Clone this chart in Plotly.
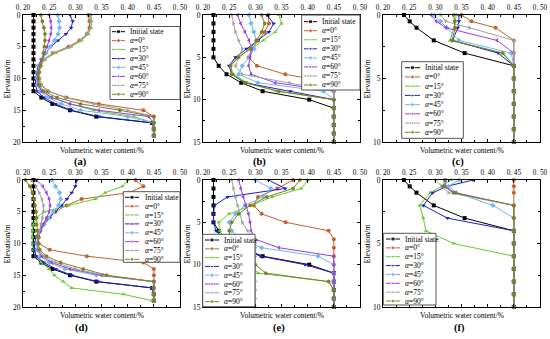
import plotly.graph_objects as go

W, H = 550, 339

# ---------------- data ----------------
depth_ad = list(range(20))
depth_be = list(range(16))
depth_cf = [0, 0.5, 1, 2, 3, 4, 5, 6, 7, 8, 9, 10]

x_ticks = [0.20, 0.25, 0.30, 0.35, 0.40, 0.45, 0.50]
x_ticktext = ["0. 20", "0. 25", "0. 30", "0. 35", "0. 40", "0. 45", "0. 50"]

series_names = ["Initial state", "<i>α</i>=0°", "<i>α</i>=15°", "<i>α</i>=30°",
                "<i>α</i>=45°", "<i>α</i>=60°", "<i>α</i>=75°", "<i>α</i>=90°"]

# panel (a)
a_init = [0.220, 0.220, 0.220, 0.220, 0.220, 0.220, 0.220, 0.220, 0.220, 0.220, 0.220, 0.220, 0.220, 0.235, 0.256, 0.290, 0.340, 0.447, 0.450, 0.450]
a_a0 = [0.325, 0.327, 0.327, 0.322, 0.308, 0.287, 0.257, 0.240, 0.234, 0.231, 0.231, 0.234, 0.248, 0.283, 0.345, 0.430, 0.450, 0.450, 0.450, 0.450]
a_a15 = [0.328, 0.330, 0.330, 0.325, 0.312, 0.292, 0.262, 0.242, 0.233, 0.229, 0.228, 0.229, 0.236, 0.255, 0.290, 0.335, 0.412, 0.450, 0.450, 0.450]
a_a30 = [0.290, 0.295, 0.292, 0.282, 0.267, 0.253, 0.243, 0.235, 0.229, 0.226, 0.224, 0.224, 0.227, 0.240, 0.262, 0.292, 0.345, 0.450, 0.450, 0.450]
a_a45 = [0.266, 0.269, 0.270, 0.267, 0.260, 0.252, 0.244, 0.237, 0.231, 0.228, 0.226, 0.227, 0.233, 0.248, 0.273, 0.310, 0.400, 0.450, 0.450, 0.450]
a_a60 = [0.250, 0.253, 0.254, 0.253, 0.250, 0.246, 0.241, 0.236, 0.232, 0.229, 0.228, 0.229, 0.236, 0.255, 0.290, 0.345, 0.440, 0.450, 0.450, 0.450]
a_a75 = [0.330, 0.331, 0.330, 0.323, 0.310, 0.290, 0.258, 0.240, 0.234, 0.231, 0.231, 0.235, 0.250, 0.280, 0.335, 0.400, 0.450, 0.450, 0.450, 0.450]
a_a90 = [0.234, 0.237, 0.240, 0.242, 0.242, 0.241, 0.239, 0.236, 0.233, 0.230, 0.229, 0.231, 0.240, 0.265, 0.310, 0.385, 0.450, 0.450, 0.450, 0.450]

# panel (b)
b_init = [0.220, 0.220, 0.220, 0.220, 0.220, 0.220, 0.230, 0.245, 0.273, 0.314, 0.403, 0.450, 0.450, 0.450, 0.450, 0.450]
b_a0 = [0.325, 0.326, 0.318, 0.305, 0.293, 0.287, 0.303, 0.357, 0.447, 0.450, 0.450, 0.450, 0.450, 0.450, 0.450, 0.450]
b_a15 = [0.345, 0.350, 0.338, 0.315, 0.292, 0.265, 0.252, 0.258, 0.285, 0.340, 0.450, 0.450, 0.450, 0.450, 0.450, 0.450]
b_a30 = [0.322, 0.335, 0.326, 0.305, 0.283, 0.262, 0.250, 0.255, 0.280, 0.367, 0.450, 0.450, 0.450, 0.450, 0.450, 0.450]
b_a45 = [0.288, 0.292, 0.297, 0.302, 0.298, 0.288, 0.275, 0.268, 0.305, 0.430, 0.450, 0.450, 0.450, 0.450, 0.450, 0.450]
b_a60 = [0.266, 0.272, 0.280, 0.288, 0.293, 0.290, 0.287, 0.292, 0.338, 0.450, 0.450, 0.450, 0.450, 0.450, 0.450, 0.450]
b_a75 = [0.255, 0.258, 0.262, 0.268, 0.275, 0.268, 0.262, 0.275, 0.365, 0.450, 0.450, 0.450, 0.450, 0.450, 0.450, 0.450]
b_a90 = [0.312, 0.318, 0.312, 0.302, 0.290, 0.268, 0.253, 0.255, 0.280, 0.345, 0.450, 0.450, 0.450, 0.450, 0.450, 0.450]

# panel (c)
c_init = [0.240, 0.251, 0.264, 0.297, 0.356, 0.450, 0.450, 0.450, 0.450, 0.450, 0.450, 0.450]
c_a0 = [0.350, 0.369, 0.415, 0.450, 0.450, 0.450, 0.450, 0.450, 0.450, 0.450, 0.450, 0.450]
c_a15 = [0.340, 0.338, 0.336, 0.328, 0.430, 0.450, 0.450, 0.450, 0.450, 0.450, 0.450, 0.450]
c_a30 = [0.345, 0.345, 0.343, 0.333, 0.420, 0.450, 0.450, 0.450, 0.450, 0.450, 0.450, 0.450]
c_a45 = [0.298, 0.310, 0.322, 0.345, 0.445, 0.450, 0.450, 0.450, 0.450, 0.450, 0.450, 0.450]
c_a60 = [0.292, 0.302, 0.320, 0.418, 0.450, 0.450, 0.450, 0.450, 0.450, 0.450, 0.450, 0.450]
c_a75 = [0.310, 0.320, 0.365, 0.450, 0.450, 0.450, 0.450, 0.450, 0.450, 0.450, 0.450, 0.450]
c_a90 = [0.335, 0.337, 0.338, 0.332, 0.428, 0.450, 0.450, 0.450, 0.450, 0.450, 0.450, 0.450]

# panel (d)
d_init = [0.220, 0.220, 0.220, 0.220, 0.220, 0.220, 0.220, 0.220, 0.220, 0.220, 0.220, 0.220, 0.220, 0.235, 0.256, 0.290, 0.340, 0.447, 0.450, 0.450]
d_a0 = [0.415, 0.430, 0.402, 0.312, 0.283, 0.262, 0.246, 0.237, 0.232, 0.230, 0.230, 0.251, 0.322, 0.430, 0.450, 0.450, 0.450, 0.450, 0.450, 0.450]
d_a15 = [0.400, 0.390, 0.357, 0.338, 0.287, 0.240, 0.225, 0.220, 0.218, 0.218, 0.218, 0.220, 0.225, 0.235, 0.250, 0.260, 0.277, 0.293, 0.392, 0.447]
d_a30 = [0.303, 0.300, 0.293, 0.284, 0.274, 0.261, 0.251, 0.240, 0.230, 0.225, 0.222, 0.222, 0.225, 0.240, 0.262, 0.293, 0.343, 0.447, 0.450, 0.450]
d_a45 = [0.255, 0.262, 0.270, 0.272, 0.268, 0.258, 0.248, 0.240, 0.233, 0.228, 0.226, 0.227, 0.233, 0.250, 0.280, 0.340, 0.450, 0.450, 0.450, 0.450]
d_a60 = [0.226, 0.238, 0.245, 0.250, 0.252, 0.250, 0.245, 0.239, 0.234, 0.230, 0.228, 0.229, 0.236, 0.255, 0.290, 0.350, 0.450, 0.450, 0.450, 0.450]
d_a75 = [0.216, 0.225, 0.231, 0.236, 0.239, 0.239, 0.237, 0.234, 0.231, 0.229, 0.228, 0.230, 0.240, 0.262, 0.300, 0.355, 0.450, 0.450, 0.450, 0.450]
d_a90 = [0.205, 0.213, 0.218, 0.221, 0.223, 0.225, 0.226, 0.226, 0.227, 0.228, 0.229, 0.232, 0.245, 0.272, 0.315, 0.360, 0.450, 0.450, 0.450, 0.450]

# panel (e)
e_init = [0.220, 0.220, 0.220, 0.220, 0.220, 0.220, 0.230, 0.245, 0.273, 0.314, 0.403, 0.450, 0.450, 0.450, 0.450, 0.450]
e_a0 = [0.372, 0.342, 0.305, 0.297, 0.312, 0.358, 0.440, 0.450, 0.450, 0.450, 0.450, 0.450, 0.450, 0.450, 0.450, 0.450]
e_a15 = [0.400, 0.388, 0.332, 0.293, 0.250, 0.230, 0.232, 0.240, 0.255, 0.275, 0.290, 0.306, 0.440, 0.450, 0.450, 0.450]
e_a30 = [0.325, 0.357, 0.247, 0.222, 0.220, 0.220, 0.225, 0.240, 0.270, 0.310, 0.395, 0.450, 0.450, 0.450, 0.450, 0.450]
e_a45 = [0.300, 0.330, 0.315, 0.280, 0.262, 0.250, 0.255, 0.272, 0.312, 0.420, 0.450, 0.450, 0.450, 0.450, 0.450, 0.450]
e_a60 = [0.268, 0.272, 0.277, 0.282, 0.287, 0.290, 0.292, 0.300, 0.345, 0.450, 0.450, 0.450, 0.450, 0.450, 0.450, 0.450]
e_a75 = [0.255, 0.258, 0.262, 0.266, 0.270, 0.275, 0.285, 0.300, 0.300, 0.300, 0.300, 0.300, 0.300, 0.300, 0.300, 0.300]
e_a90 = [0.385, 0.372, 0.322, 0.290, 0.268, 0.255, 0.250, 0.252, 0.262, 0.280, 0.300, 0.320, 0.440, 0.450, 0.450, 0.450]

# panel (f)
f_init = [0.240, 0.251, 0.264, 0.297, 0.356, 0.450, 0.450, 0.450, 0.450, 0.450, 0.450, 0.450]
f_a0 = [0.450, 0.450, 0.450, 0.450, 0.450, 0.450, 0.450, 0.450, 0.450, 0.450, 0.450, 0.450]
f_a15 = [0.330, 0.312, 0.290, 0.270, 0.277, 0.282, 0.335, 0.450, 0.450, 0.450, 0.450, 0.450]
f_a30 = [0.372, 0.322, 0.295, 0.277, 0.323, 0.450, 0.450, 0.450, 0.450, 0.450, 0.450, 0.450]
f_a45 = [0.345, 0.325, 0.340, 0.410, 0.450, 0.450, 0.450, 0.450, 0.450, 0.450, 0.450, 0.450]
f_a60 = [0.320, 0.318, 0.338, 0.450, 0.450, 0.450, 0.450, 0.450, 0.450, 0.450, 0.450, 0.450]
f_a75 = [0.300, 0.312, 0.325, 0.450, 0.450, 0.450, 0.450, 0.450, 0.450, 0.450, 0.450, 0.450]
f_a90 = [0.318, 0.315, 0.335, 0.450, 0.450, 0.450, 0.450, 0.450, 0.450, 0.450, 0.450, 0.450]

panels = [
    ("(a)", depth_ad, 20, [a_init, a_a0, a_a15, a_a30, a_a45, a_a60, a_a75, a_a90]),
    ("(b)", depth_be, 15, [b_init, b_a0, b_a15, b_a30, b_a45, b_a60, b_a75, b_a90]),
    ("(c)", depth_cf, 10, [c_init, c_a0, c_a15, c_a30, c_a45, c_a60, c_a75, c_a90]),
    ("(d)", depth_ad, 20, [d_init, d_a0, d_a15, d_a30, d_a45, d_a60, d_a75, d_a90]),
    ("(e)", depth_be, 15, [e_init, e_a0, e_a15, e_a30, e_a45, e_a60, e_a75, e_a90]),
    ("(f)", depth_cf, 10, [f_init, f_a0, f_a15, f_a30, f_a45, f_a60, f_a75, f_a90]),
]

# ---------------- style ----------------
colors = ["#000000", "#C0622F", "#66CC33", "#1E1EC8", "#72B8F2", "#9B3FE0", "#A0A0A0", "#7F7F1F"]
symbols = ["square", "circle", "triangle-up", "triangle-down", "diamond",
           "triangle-left", "triangle-right", "hexagon"]
FONT = "Liberation Serif, Times New Roman, serif"
BLACK = "#000000"

col_px = [(23, 180), (203, 360), (383, 540)]
row_px = [(15, 142), (180, 307)]
label_px = [(80, 162), (259, 162), (458, 162), (81, 327.5), (279, 327.5), (459, 327.5)]

# legend geometry: box x0,x1,y0,y1 ; first row y ; row step ; line x0,x1 ; text x
legend_px = [
    (110, 180, 26.5, 99.5, 31.7, 8.94, 112, 125, 127.5),
    (301.7, 360, 15, 90, 21.7, 9.04, 304, 317, 320),
    (401.7, 463.3, 61.7, 138.3, 67.7, 9.23, 405, 420, 422.7),
    (123.3, 180, 191.7, 262.3, 197.3, 8.86, 125, 139, 142.5),
    (202.7, 255, 234.3, 306.7, 240, 8.8, 205, 219, 221.7),
    (383.3, 436, 233.3, 305, 239, 8.86, 386, 400, 402.7),
]

fig = go.Figure()
layout = dict(
    template="none",
    width=W, height=H, margin=dict(l=0, r=0, t=0, b=0, pad=0),
    paper_bgcolor="white", plot_bgcolor="rgba(0,0,0,0)",
    font=dict(family=FONT, color=BLACK, size=8),
    showlegend=False,
)
annotations = []
shapes = []

for i, (lab, depth, ymax, vals) in enumerate(panels):
    r, c = divmod(i, 3)
    x0, x1 = col_px[c]
    y0, y1 = row_px[r]
    k = "" if i == 0 else str(i + 1)
    xa, ya = "x" + k, "y" + k
    layout["xaxis" + k] = dict(
        domain=[x0 / W, x1 / W], anchor=ya, range=[0.2, 0.5], side="top",
        tickvals=x_ticks, ticktext=x_ticktext, ticks="inside", ticklen=3,
        tickwidth=1, tickcolor=BLACK, showline=True, linecolor=BLACK,
        linewidth=1, mirror="ticks", showgrid=False, zeroline=False,
        tickfont=dict(size=7.2, family=FONT, color=BLACK), ticklabelstandoff=1,
        minor=dict(dtick=0.025, ticks="inside", ticklen=2, tickcolor=BLACK, showgrid=False),
        fixedrange=True,
    )
    layout["yaxis" + k] = dict(
        domain=[1 - y1 / H, 1 - y0 / H], anchor=xa, range=[ymax, 0],
        tick0=0, dtick=5, ticks="inside", ticklen=3, tickwidth=1,
        tickcolor=BLACK, showline=True, linecolor=BLACK, linewidth=1,
        mirror="ticks", showgrid=False, zeroline=False,
        tickfont=dict(size=7.5, family=FONT, color=BLACK),
        minor=dict(dtick=2.5, ticks="inside", ticklen=2, tickcolor=BLACK, showgrid=False),
        fixedrange=True,
    )
    for j, v in enumerate(vals):
        fig.add_trace(go.Scatter(
            x=v, y=depth, xaxis=xa, yaxis=ya, mode="lines+markers",
            line=dict(color=colors[j], width=1),
            marker=dict(symbol=symbols[j], color=colors[j], size=4),
            name=series_names[j], hoverinfo="skip", cliponaxis=False,
        ))
    # axis titles and panel label
    annotations.append(dict(
        text="Volumetric water content/%", xref="paper", yref="paper",
        x=(x0 + x1) / 2 / W, y=1 - (y1 + 8.5) / H, showarrow=False,
        xanchor="center", yanchor="middle", borderpad=0,
        font=dict(size=7.5, family=FONT, color=BLACK)))
    annotations.append(dict(
        text="Elevation/m", xref="paper", yref="paper",
        x=(x0 - 16) / W, y=1 - (y0 + y1) / 2 / H, showarrow=False,
        textangle=-90, xanchor="center", yanchor="middle",
        font=dict(size=8, family=FONT, color=BLACK)))
    lx, ly = label_px[i]
    annotations.append(dict(
        text="<b>" + lab + "</b>", xref="paper", yref="paper",
        x=lx / W, y=1 - ly / H, showarrow=False, xanchor="center",
        yanchor="middle", borderpad=0,
        font=dict(size=10.5, family=FONT, color=BLACK)))

# helper pixel-space axes for the in-panel legends
layout["xaxis7"] = dict(domain=[0, 1], range=[0, W], anchor="y7", visible=False, fixedrange=True)
layout["yaxis7"] = dict(domain=[0, 1], range=[H, 0], anchor="x7", visible=False, fixedrange=True)

for i, (bx0, bx1, by0, by1, ry0, step, lx0, lx1, tx) in enumerate(legend_px):
    shapes.append(dict(type="rect", xref="x7", yref="y7", x0=bx0, x1=bx1,
                       y0=by0, y1=by1, fillcolor="white",
                       line=dict(color="#555555", width=1), layer="below"))
    for j in range(8):
        yy = ry0 + j * step
        fig.add_trace(go.Scatter(
            x=[lx0, (lx0 + lx1) / 2, lx1], y=[yy, yy, yy], xaxis="x7", yaxis="y7",
            mode="lines+markers", line=dict(color=colors[j], width=1),
            marker=dict(symbol=symbols[j], color=colors[j], size=[0, 4, 0]),
            hoverinfo="skip", showlegend=False))
        annotations.append(dict(
            text=series_names[j], xref="x7", yref="y7", x=tx, y=yy,
            showarrow=False, xanchor="left", yanchor="middle",
            font=dict(size=7.5, family=FONT, color=BLACK)))

layout["annotations"] = annotations
layout["shapes"] = shapes
fig.update_layout(**layout)
fig.write_html("out.html", config={"displayModeBar": False},
               post_script="document.body.style.margin='0';document.body.style.padding='0';")
